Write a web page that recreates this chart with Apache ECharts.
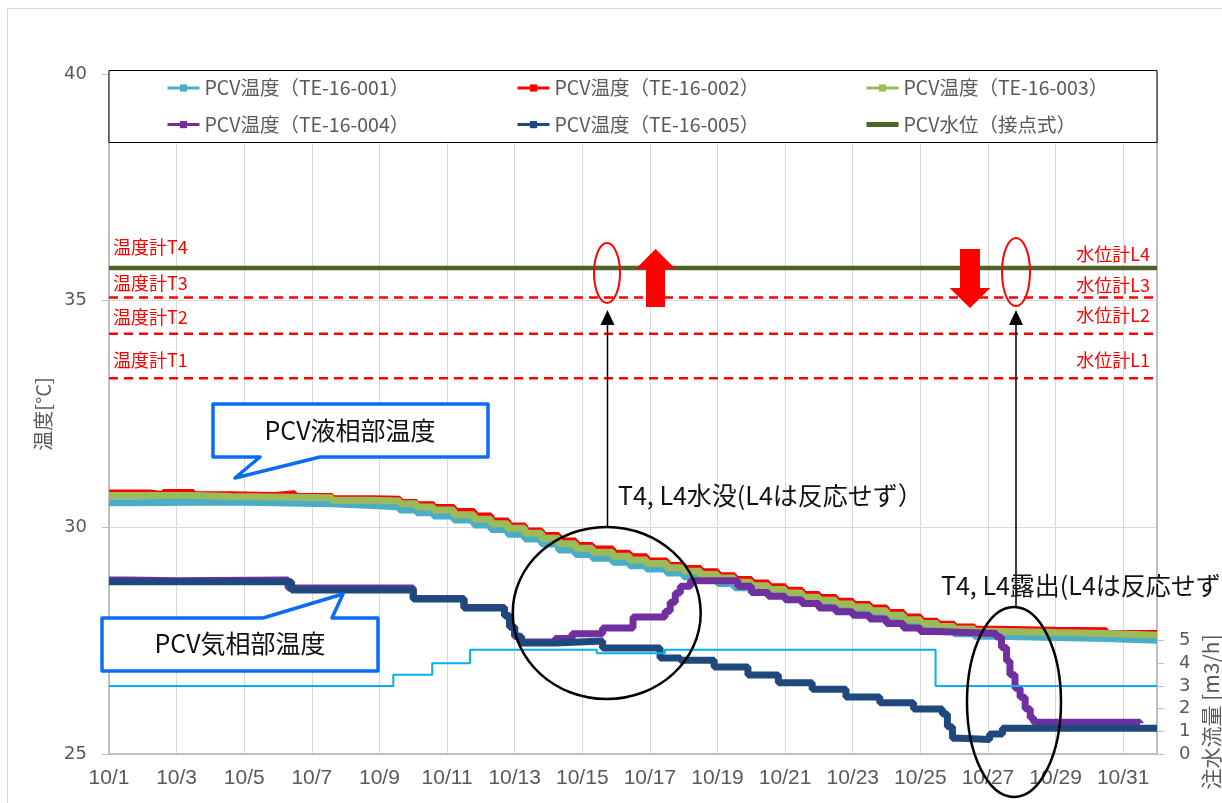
<!DOCTYPE html>
<html><head><meta charset="utf-8">
<script src="https://cdn.jsdelivr.net/npm/echarts@6/dist/echarts.min.js"></script>
<style>html,body{margin:0;padding:0;background:#fff}#c{width:1222px;height:803px}</style>
</head><body><div id="c"></div>
<script>
// ---- data (x = days since 10/1 00:00) ----
const dayTicks = ['10/1','10/3','10/5','10/7','10/9','10/11','10/13','10/15','10/17','10/19','10/21','10/23','10/25','10/27','10/29','10/31'];
const nameT001 = 'PCV温度（TE-16-001）';
const nameT002 = 'PCV温度（TE-16-002）';
const nameT003 = 'PCV温度（TE-16-003）';
const nameT004 = 'PCV温度（TE-16-004）';
const nameT005 = 'PCV温度（TE-16-005）';
const nameLevel = 'PCV水位（接点式）';
const te001 = [[0,30.54],[0.6,30.56],[3.6,30.52],[6.6,30.48],[7.8,30.45],[8.6,30.38],[9.1,30.32],[9.6,30.25],[10.2,30.16],[10.8,30.05],[11.3,29.95],[11.8,29.85],[12.3,29.74],[12.8,29.63],[13.3,29.50],[13.8,29.40],[14.3,29.32],[14.9,29.23],[15.4,29.15],[15.9,29.08],[16.5,28.99],[17.0,28.91],[17.5,28.84],[18.0,28.76],[18.5,28.67],[19.0,28.59],[19.5,28.51],[20.0,28.43],[20.5,28.35],[21.0,28.27],[21.5,28.19],[22.0,28.12],[22.5,28.04],[23.0,27.94],[23.5,27.85],[24.0,27.77],[24.5,27.70],[25.0,27.65],[25.6,27.60],[26.2,27.57],[28.0,27.55],[29.5,27.51],[31,27.51]];
const te002 = [[0,30.76],[1.2,30.72],[1.6,30.77],[2.5,30.72],[3.6,30.70],[4.9,30.74],[5.5,30.68],[6.6,30.63],[7.8,30.62],[8.6,30.55],[9.1,30.50],[9.6,30.44],[10.2,30.35],[10.8,30.25],[11.3,30.14],[11.8,30.03],[12.3,29.92],[12.8,29.82],[13.3,29.70],[13.8,29.60],[14.3,29.52],[14.9,29.43],[15.4,29.35],[15.9,29.26],[16.5,29.16],[17.0,29.09],[17.5,29.02],[18.0,28.93],[18.5,28.85],[19.0,28.77],[19.5,28.69],[20.0,28.61],[20.5,28.52],[21.0,28.45],[21.5,28.37],[22.0,28.30],[22.5,28.22],[23.0,28.12],[23.5,28.02],[24.0,27.93],[24.5,27.86],[25.0,27.80],[25.6,27.75],[26.2,27.73],[28.0,27.72],[29.5,27.66],[31,27.66]];
const te003 = [[0,30.70],[2.5,30.68],[3.6,30.65],[6.6,30.60],[7.8,30.58],[8.6,30.52],[9.1,30.45],[9.6,30.38],[10.2,30.28],[10.8,30.18],[11.3,30.08],[11.8,29.98],[12.3,29.87],[12.8,29.76],[13.3,29.64],[13.8,29.54],[14.3,29.45],[14.9,29.36],[15.4,29.28],[15.9,29.20],[16.5,29.11],[17.0,29.03],[17.5,28.96],[18.0,28.88],[18.5,28.79],[19.0,28.71],[19.5,28.63],[20.0,28.55],[20.5,28.46],[21.0,28.39],[21.5,28.31],[22.0,28.24],[22.5,28.16],[23.0,28.06],[23.5,27.96],[24.0,27.88],[24.5,27.81],[25.0,27.76],[25.6,27.71],[26.2,27.68],[28.0,27.66],[29.5,27.62],[31,27.62]];
const te004 = [[0,28.84],[0.5,28.82],[2.0,28.84],[5.3,28.66],[9.0,28.43],[10.5,28.23],[11.7,28.05],[11.85,27.8],[12.0,27.6],[12.15,27.47],[13.2,27.55],[13.7,27.65],[14.6,27.78],[15.5,28.02],[16.45,28.15],[16.6,28.35],[16.75,28.55],[16.9,28.70],[17.2,28.82],[18.6,28.70],[19.0,28.56],[19.5,28.48],[20.0,28.40],[20.5,28.32],[21.0,28.22],[21.5,28.14],[22.0,28.06],[22.5,27.98],[23.0,27.88],[23.5,27.78],[24.0,27.70],[24.5,27.66],[26.25,27.58],[26.4,27.35],[26.55,27.05],[26.65,26.75],[26.8,26.45],[26.95,26.25],[27.1,26.0],[27.25,25.8],[27.35,25.70],[30.5,25.68]];
const te005 = [[0,28.80],[5.4,28.62],[9.0,28.42],[10.5,28.22],[11.7,28.05],[11.85,27.8],[12.0,27.6],[12.2,27.45],[13.2,27.49],[14.6,27.34],[16.3,27.12],[16.9,27.07],[17.9,26.92],[18.9,26.74],[19.8,26.57],[20.8,26.43],[21.8,26.26],[22.8,26.13],[23.8,25.99],[24.65,25.88],[24.8,25.6],[24.95,25.35],[25.2,25.32],[26.05,25.44],[26.43,25.57],[31,25.57]];
const waterLevel = [[0,35.72],[31,35.72]];
const flowRate = [[0,3.0],[8.41,3.5],[9.56,4.0],[10.68,4.6],[14.43,4.45],[16.44,4.6],[24.45,3.0],[31,3.0]];
const thermoLevels = [33.29, 34.27, 35.07];
const flowTicks = [0,1,2,3,4,5];

const grey = '#595959';
const jp = '"Noto Sans CJK JP", sans-serif';

const chart = echarts.init(document.getElementById('c'), null, {renderer:'canvas'});

function tempSeries(name, data, color){
  return {type:'line', name, data, step:'end', symbol:'rect', symbolSize:7, showSymbol:false,
    lineStyle:{width:7, color}, itemStyle:{color}, animation:false, silent:true};
}
const series = [
  ...thermoLevels.map((v,i)=>({type:'line', name:'thr'+i, data:[[0,v],[31,v]], symbol:'none',
      lineStyle:{width:2.5, color:'#FF0000', type:[9,6]}, animation:false, silent:true})),
  {type:'line', name:nameLevel, data:waterLevel, symbol:'none', lineStyle:{width:4.5, color:'#4F6228'}, itemStyle:{color:'#4F6228'}, animation:false, silent:true},
  tempSeries(nameT001, te001, '#4BACC6'),
  tempSeries(nameT002, te002, '#FF0000'),
  tempSeries(nameT003, te003, '#9BBB59'),
  tempSeries(nameT004, te004, '#7030A0'),
  tempSeries(nameT005, te005, '#1F497D'),
  {type:'line', name:'flow', yAxisIndex:1, data:flowRate, step:'end', symbol:'none', lineStyle:{width:2, color:'#00B0F0'}, animation:false, silent:true}
];

function legendCol(left, names){
  return {left, top:77, padding:0, orient:'vertical', itemGap:14.6, itemWidth:32, itemHeight:9, selectedMode:false,
    lineStyle:{width:3}, textStyle:{fontFamily:jp, fontSize:19.5, color:grey, lineHeight:22},
    data:names, z:10};
}

const annotText = (text, x, y, size, color, align, z) => ({type:'text', x, y, z:z||20,
  style:{text, fill:color, fontSize:size, fontFamily:jp, textAlign:align||'left', textVerticalAlign:'middle', align:align||'left', verticalAlign:'middle'}});

const graphics = [
  {type:'rect', shape:{x:7.5, y:8.5, width:1400, height:1000}, style:{fill:'none', stroke:'#D9D9D9', lineWidth:1}, z:0},
  {type:'rect', shape:{x:109, y:70.5, width:1048, height:72}, style:{fill:'#fff', stroke:'#000', lineWidth:1}, z:3},
  annotText('温度計T4', 113, 247, 18, '#FF0000'),
  annotText('温度計T3', 113, 283, 18, '#FF0000'),
  annotText('温度計T2', 113, 317, 18, '#FF0000'),
  annotText('温度計T1', 113, 360, 18, '#FF0000'),
  annotText('水位計L4', 1150, 254, 18, '#FF0000', 'right'),
  annotText('水位計L3', 1150, 285, 18, '#FF0000', 'right'),
  annotText('水位計L2', 1150, 315, 18, '#FF0000', 'right'),
  annotText('水位計L1', 1150, 360, 18, '#FF0000', 'right'),
  {type:'ellipse', shape:{cx:607, cy:273, rx:13, ry:30}, style:{fill:'none', stroke:'#FF0000', lineWidth:2}, z:20},
  {type:'ellipse', shape:{cx:1016, cy:272, rx:14, ry:34}, style:{fill:'none', stroke:'#FF0000', lineWidth:2}, z:20},
  {type:'polygon', shape:{points:[[655.6,249],[675.5,269],[665,269],[665,307],[646,307],[646,269],[635.7,269]]}, style:{fill:'#FF0000'}, z:20},
  {type:'polygon', shape:{points:[[960,249],[980,249],[980,288],[990.3,288],[970,308],[949.6,288],[960,288]]}, style:{fill:'#FF0000'}, z:20},
  {type:'line', shape:{x1:607.5, y1:527, x2:607.5, y2:322}, style:{stroke:'#000', lineWidth:1.5}, z:20},
  {type:'polygon', shape:{points:[[607.5,310],[614.5,325],[600.5,325]]}, style:{fill:'#000'}, z:20},
  {type:'line', shape:{x1:1016, y1:608, x2:1016, y2:322}, style:{stroke:'#000', lineWidth:1.5}, z:20},
  {type:'polygon', shape:{points:[[1016,310],[1023,325],[1009,325]]}, style:{fill:'#000'}, z:20},
  {type:'ellipse', shape:{cx:606.7, cy:613, rx:94, ry:86}, style:{fill:'none', stroke:'#000', lineWidth:2.5}, z:20},
  {type:'ellipse', shape:{cx:1014, cy:702, rx:47, ry:95}, style:{fill:'none', stroke:'#000', lineWidth:2.5}, z:20},
  annotText('T4, L4水没(L4は反応せず）', 618, 495, 25, '#111'),
  annotText('T4, L4露出(L4は反応せず）', 941, 585, 25, '#111'),
  {type:'polygon', shape:{points:[[213,404],[488,404],[488,457],[320,457],[235,478],[260,457],[213,457]]}, style:{fill:'#fff', stroke:'#0A6CF5', lineWidth:3.5, lineJoin:'round'}, z:21},
  annotText('PCV液相部温度', 350, 430.5, 25, '#111', 'center', 23),
  {type:'polygon', shape:{points:[[102,618],[263,618],[343,594],[332,618],[378,618],[378,671],[102,671]]}, style:{fill:'#fff', stroke:'#0A6CF5', lineWidth:3.5, lineJoin:'round'}, z:21},
  annotText('PCV気相部温度', 240, 643, 25, '#111', 'center', 23),
  {type:'text', x:1211, y:712, rotation:Math.PI/2, z:20, style:{text:'注水流量 [m3/h]', fill:grey, fontSize:21, fontFamily:jp, textAlign:'center', textVerticalAlign:'middle', align:'center', verticalAlign:'middle'}}
];

const option = {
  animation:false,
  backgroundColor:'#fff',
  grid:{left:109, right:65, top:74, bottom:49, containLabel:false},
  legend:[
    legendCol(166, [{name:nameT001},{name:nameT004}]),
    legendCol(516, [{name:nameT002},{name:nameT005}]),
    legendCol(864, [{name:nameT003},{name:nameLevel, lineStyle:{width:5}, itemStyle:{color:'rgba(0,0,0,0)', borderWidth:0}}])
  ],
  xAxis:{type:'value', min:0, max:31, interval:2,
    axisLine:{show:true, onZero:false, lineStyle:{color:'#BFBFBF', width:2}},
    axisTick:{show:false},
    splitLine:{show:true, lineStyle:{color:'#D9D9D9', width:1}},
    axisLabel:{margin:14, color:grey, fontSize:21, fontFamily:'"Liberation Sans Narrow", "Liberation Sans", sans-serif',
      formatter:v=>(v%2===0 && v/2<dayTicks.length) ? dayTicks[v/2] : ''}},
  yAxis:[
    {type:'value', min:25, max:40, interval:5, name:'温度[°C]', nameLocation:'middle', nameGap:56,
      nameTextStyle:{color:grey, fontSize:20, fontFamily:jp},
      axisLine:{show:true, lineStyle:{color:'#BFBFBF', width:2}},
      axisTick:{show:true, length:7, lineStyle:{color:'#BFBFBF', width:1}},
      splitLine:{show:true, lineStyle:{color:'#D9D9D9', width:1}},
      axisLabel:{margin:22, color:grey, fontSize:18, fontFamily:'"DejaVu Sans", sans-serif'}},
    {type:'value', position:'right', min:0, max:30, interval:1,
      axisLine:{show:true, lineStyle:{color:'#BFBFBF', width:2}},
      axisTick:{show:true, length:7, customValues:flowTicks, lineStyle:{color:'#BFBFBF', width:1}},
      splitLine:{show:false},
      axisLabel:{margin:22, color:grey, fontSize:18, fontFamily:'"DejaVu Sans", sans-serif', customValues:flowTicks}}
  ],
  series,
  graphic:{elements:graphics}
};
chart.setOption(option);
</script></body></html>
